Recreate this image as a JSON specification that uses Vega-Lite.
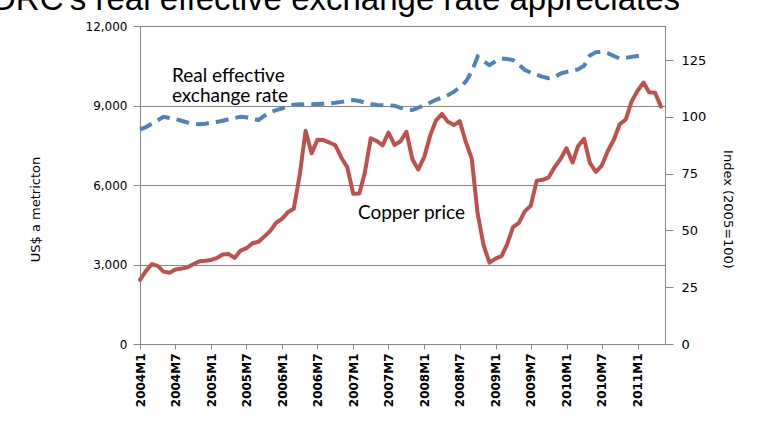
{
  "$schema": "https://vega.github.io/schema/vega-lite/v6.json",
  "width": 525,
  "height": 318,
  "autosize": "none",
  "padding": {"left": 140, "top": 26, "right": 101, "bottom": 86},
  "background": "white",
  "title": {
    "text": "DRC's real effective exchange rate appreciates",
    "font": "Liberation Sans",
    "fontSize": 33,
    "fontWeight": "normal",
    "color": "#000000",
    "anchor": "start",
    "frame": "group",
    "baseline": "alphabetic",
    "offset": 7,
    "dx": -148,
    "dy": 30
  },
  "config": {
    "view": {"stroke": "#868686", "strokeWidth": 1},
    "axis": {"domainColor": "#868686", "tickColor": "#868686", "labelColor": "#000000", "titleColor": "#000000"}
  },
  "data": {
    "values": [
      {"date": "2004-01-01", "copper": 2423, "reer": 94.5},
      {"date": "2004-02-01", "copper": 2759, "reer": 95.5},
      {"date": "2004-03-01", "copper": 3011, "reer": 97},
      {"date": "2004-04-01", "copper": 2949, "reer": 98.5},
      {"date": "2004-05-01", "copper": 2732, "reer": 100},
      {"date": "2004-06-01", "copper": 2689, "reer": 99.5},
      {"date": "2004-07-01", "copper": 2808, "reer": 99},
      {"date": "2004-08-01", "copper": 2846, "reer": 98.3},
      {"date": "2004-09-01", "copper": 2895, "reer": 97.5},
      {"date": "2004-10-01", "copper": 3012, "reer": 97},
      {"date": "2004-11-01", "copper": 3120, "reer": 96.7},
      {"date": "2004-12-01", "copper": 3142, "reer": 97},
      {"date": "2005-01-01", "copper": 3170, "reer": 97.5},
      {"date": "2005-02-01", "copper": 3254, "reer": 97.8},
      {"date": "2005-03-01", "copper": 3379, "reer": 98.3},
      {"date": "2005-04-01", "copper": 3394, "reer": 99},
      {"date": "2005-05-01", "copper": 3249, "reer": 99.5},
      {"date": "2005-06-01", "copper": 3526, "reer": 100},
      {"date": "2005-07-01", "copper": 3614, "reer": 99.8},
      {"date": "2005-08-01", "copper": 3800, "reer": 99.2},
      {"date": "2005-09-01", "copper": 3858, "reer": 98.6},
      {"date": "2005-10-01", "copper": 4059, "reer": 100.5},
      {"date": "2005-11-01", "copper": 4269, "reer": 102},
      {"date": "2005-12-01", "copper": 4577, "reer": 103},
      {"date": "2006-01-01", "copper": 4734, "reer": 103.7},
      {"date": "2006-02-01", "copper": 4982, "reer": 105},
      {"date": "2006-03-01", "copper": 5102, "reer": 105.3},
      {"date": "2006-04-01", "copper": 6387, "reer": 105.5},
      {"date": "2006-05-01", "copper": 8046, "reer": 105.6},
      {"date": "2006-06-01", "copper": 7197, "reer": 105.6},
      {"date": "2006-07-01", "copper": 7711, "reer": 105.7},
      {"date": "2006-08-01", "copper": 7695, "reer": 105.8},
      {"date": "2006-09-01", "copper": 7602, "reer": 105.9},
      {"date": "2006-10-01", "copper": 7500, "reer": 106.2},
      {"date": "2006-11-01", "copper": 7029, "reer": 106.6},
      {"date": "2006-12-01", "copper": 6676, "reer": 107},
      {"date": "2007-01-01", "copper": 5670, "reer": 107.4},
      {"date": "2007-02-01", "copper": 5677, "reer": 107},
      {"date": "2007-03-01", "copper": 6452, "reer": 106.3},
      {"date": "2007-04-01", "copper": 7766, "reer": 105.7},
      {"date": "2007-05-01", "copper": 7662, "reer": 105.2},
      {"date": "2007-06-01", "copper": 7497, "reer": 105.1},
      {"date": "2007-07-01", "copper": 7980, "reer": 105},
      {"date": "2007-08-01", "copper": 7510, "reer": 104.9},
      {"date": "2007-09-01", "copper": 7651, "reer": 104},
      {"date": "2007-10-01", "copper": 8008, "reer": 103.3},
      {"date": "2007-11-01", "copper": 6967, "reer": 103},
      {"date": "2007-12-01", "copper": 6586, "reer": 104},
      {"date": "2008-01-01", "copper": 7061, "reer": 105.2},
      {"date": "2008-02-01", "copper": 7888, "reer": 106.3},
      {"date": "2008-03-01", "copper": 8439, "reer": 107.5},
      {"date": "2008-04-01", "copper": 8685, "reer": 108.5},
      {"date": "2008-05-01", "copper": 8383, "reer": 109.5},
      {"date": "2008-06-01", "copper": 8260, "reer": 111},
      {"date": "2008-07-01", "copper": 8414, "reer": 113},
      {"date": "2008-08-01", "copper": 7634, "reer": 115.5},
      {"date": "2008-09-01", "copper": 6991, "reer": 120},
      {"date": "2008-10-01", "copper": 4926, "reer": 126.5},
      {"date": "2008-11-01", "copper": 3717, "reer": 124.5},
      {"date": "2008-12-01", "copper": 3072, "reer": 122.8},
      {"date": "2009-01-01", "copper": 3221, "reer": 124.5},
      {"date": "2009-02-01", "copper": 3315, "reer": 125.7},
      {"date": "2009-03-01", "copper": 3750, "reer": 125.5},
      {"date": "2009-04-01", "copper": 4407, "reer": 125},
      {"date": "2009-05-01", "copper": 4569, "reer": 123},
      {"date": "2009-06-01", "copper": 5014, "reer": 120.6},
      {"date": "2009-07-01", "copper": 5216, "reer": 119.5},
      {"date": "2009-08-01", "copper": 6165, "reer": 118.5},
      {"date": "2009-09-01", "copper": 6196, "reer": 117.6},
      {"date": "2009-10-01", "copper": 6288, "reer": 117},
      {"date": "2009-11-01", "copper": 6676, "reer": 117.6},
      {"date": "2009-12-01", "copper": 6982, "reer": 119},
      {"date": "2010-01-01", "copper": 7386, "reer": 119.8},
      {"date": "2010-02-01", "copper": 6848, "reer": 120.4},
      {"date": "2010-03-01", "copper": 7463, "reer": 120.9},
      {"date": "2010-04-01", "copper": 7745, "reer": 122.5},
      {"date": "2010-05-01", "copper": 6838, "reer": 127},
      {"date": "2010-06-01", "copper": 6499, "reer": 128.5},
      {"date": "2010-07-01", "copper": 6735, "reer": 128.6},
      {"date": "2010-08-01", "copper": 7284, "reer": 128},
      {"date": "2010-09-01", "copper": 7709, "reer": 126.8},
      {"date": "2010-10-01", "copper": 8292, "reer": 125.7},
      {"date": "2010-11-01", "copper": 8469, "reer": 126},
      {"date": "2010-12-01", "copper": 9147, "reer": 126.4},
      {"date": "2011-01-01", "copper": 9556, "reer": 126.8},
      {"date": "2011-02-01", "copper": 9868, "reer": 127.2},
      {"date": "2011-03-01", "copper": 9503, "reer": null},
      {"date": "2011-04-01", "copper": 9482, "reer": null},
      {"date": "2011-05-01", "copper": 8960, "reer": null}
    ]
  },
  "encoding": {
    "x": {
      "field": "date",
      "type": "temporal",
      "scale": {
        "type": "utc",
        "domain": [
          {"year": 2004, "month": 1, "date": 1, "utc": true},
          {"year": 2011, "month": 5, "date": 22, "utc": true}
        ]
      },
      "axis": {
        "title": null,
        "grid": false,
        "values": [
          {"year": 2004, "month": 1, "date": 1, "utc": true},
          {"year": 2004, "month": 7, "date": 1, "utc": true},
          {"year": 2005, "month": 1, "date": 1, "utc": true},
          {"year": 2005, "month": 7, "date": 1, "utc": true},
          {"year": 2006, "month": 1, "date": 1, "utc": true},
          {"year": 2006, "month": 7, "date": 1, "utc": true},
          {"year": 2007, "month": 1, "date": 1, "utc": true},
          {"year": 2007, "month": 7, "date": 1, "utc": true},
          {"year": 2008, "month": 1, "date": 1, "utc": true},
          {"year": 2008, "month": 7, "date": 1, "utc": true},
          {"year": 2009, "month": 1, "date": 1, "utc": true},
          {"year": 2009, "month": 7, "date": 1, "utc": true},
          {"year": 2010, "month": 1, "date": 1, "utc": true},
          {"year": 2010, "month": 7, "date": 1, "utc": true},
          {"year": 2011, "month": 1, "date": 1, "utc": true}
        ],
        "labelExpr": "utcyear(datum.value) + 'M' + (utcmonth(datum.value) + 1)",
        "labelAngle": 270,
        "labelFont": "DejaVu Sans",
        "labelFontSize": 12,
        "labelFontWeight": "bold",
        "labelPadding": 4,
        "tickSize": 5,
        "labelFlush": false,
        "labelOverlap": false
      }
    }
  },
  "layer": [
    {
      "layer": [
        {
          "mark": {"type": "line", "color": "#C0504D", "strokeWidth": 4, "strokeJoin": "round", "strokeCap": "round"},
          "encoding": {
            "y": {
              "field": "copper",
              "type": "quantitative",
              "scale": {"domain": [0, 12000], "nice": false},
              "axis": {
                "title": "US$ a metricton",
                "values": [0, 3000, 6000, 9000, 12000],
                "format": ",.0f",
                "grid": true,
                "gridColor": "#868686",
                "gridWidth": 1,
                "tickSize": 7,
                "labelPadding": 6,
                "labelFont": "DejaVu Sans",
                "labelFontSize": 12,
                "titleFont": "DejaVu Sans",
                "titleFontSize": 13,
                "titleFontWeight": "normal",
                "titleAngle": 270,
                "titleAlign": "center",
                "titleBaseline": "middle",
                "titleX": -105,
                "titleY": 183
              }
            }
          }
        },
        {
          "data": {
            "values": [
              {"note": "Real effective\nexchange rate", "date": "2004-06-13", "copper": 9887},
              {"note": "Copper price", "date": "2007-01-25", "copper": 4717}
            ]
          },
          "mark": {"type": "text", "align": "left", "baseline": "alphabetic", "font": "Lato", "fontSize": 19, "lineBreak": "\n", "lineHeight": 20, "color": "#000000"},
          "encoding": {
            "x": {"field": "date", "type": "temporal"},
            "y": {"field": "copper", "type": "quantitative"},
            "text": {"field": "note"}
          }
        }
      ]
    },
    {
      "mark": {"type": "line", "color": "#4F81BD", "strokeWidth": 4, "strokeDash": [13, 7]},
      "encoding": {
        "y": {
          "field": "reer",
          "type": "quantitative",
          "scale": {"domain": [0, 140], "nice": false},
          "axis": {
            "orient": "right",
            "title": "Index (2005=100)",
            "values": [0, 25, 50, 75, 100, 125],
            "grid": false,
            "tickSize": 8,
            "labelPadding": 8,
            "labelFont": "DejaVu Sans",
            "labelFontSize": 13,
            "titleFont": "DejaVu Sans",
            "titleFontSize": 13,
            "titleFontWeight": "normal",
            "titleAngle": 90,
            "titleAlign": "center",
            "titleBaseline": "middle",
            "titleX": 62,
            "titleY": 183
          }
        }
      }
    }
  ],
  "resolve": {"scale": {"y": "independent"}}
}
